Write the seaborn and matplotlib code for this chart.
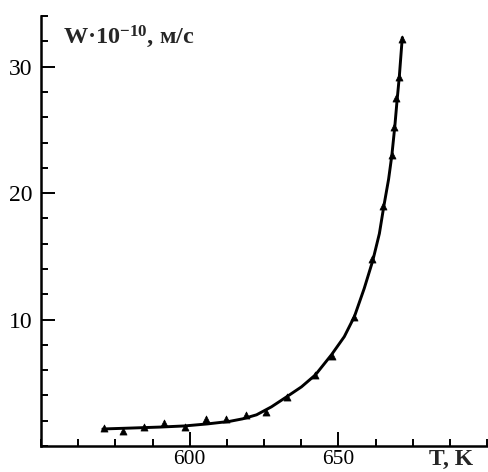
import numpy as np
import pandas as pd
import matplotlib
matplotlib.use("Agg")
import matplotlib.pyplot as plt
from matplotlib.ticker import MultipleLocator, FixedLocator
import seaborn as sns

# measured points (T, K / W*1e-10, m/s)
T_points = [571.1, 577.5, 584.5, 591.3, 598.3, 605.4, 612.1, 619.1, 625.8, 632.6,
            642.3, 647.7, 655.4, 661.4, 665.0, 667.9, 668.8, 669.4, 670.4, 671.5]
W_points = [1.43, 1.20, 1.51, 1.83, 1.51, 2.14, 2.14, 2.46, 2.70, 3.90,
            5.60, 7.10, 10.2, 14.8, 19.0, 23.0, 25.2, 27.5, 29.2, 32.2]

# fitted curve
T_curve = [570.8, 580.0, 590.0, 598.3, 606.0, 613.4, 617.8, 622.5, 627.5, 632.6,
           637.6, 642.3, 647.7, 652.0, 655.4, 658.7, 661.6, 663.8, 665.3, 666.9,
           668.0, 669.0, 669.7, 670.5, 671.5]
W_curve = [1.35, 1.42, 1.50, 1.59, 1.75, 1.95, 2.15, 2.47, 3.10, 3.89,
           4.68, 5.63, 7.22, 8.65, 10.24, 12.46, 14.68, 16.8, 18.97, 21.1,
           23.0, 25.3, 27.2, 29.2, 32.3]

df_pts = pd.DataFrame({"T": T_points, "W": W_points})
df_fit = pd.DataFrame({"T": T_curve, "W": W_curve})

sns.set_style("ticks")
plt.rcParams['font.family'] = ['Liberation Serif', 'DejaVu Serif']
plt.rcParams['mathtext.fontset'] = 'custom'
plt.rcParams['mathtext.rm'] = 'Liberation Serif:bold'
plt.rcParams['mathtext.bf'] = 'Liberation Serif:bold'
plt.rcParams['mathtext.default'] = 'bf'

fig = plt.figure(figsize=(4.88, 4.72), dpi=100)
ax = fig.add_axes([0.084, 0.055, 0.914, 0.911])

sns.lineplot(data=df_fit, x="T", y="W", color="black", linewidth=2.1, ax=ax, sort=False)
sns.scatterplot(data=df_pts, x="T", y="W", marker="^", color="black", s=26,
                edgecolor="black", linewidth=0.5, ax=ax, zorder=3)

ax.set_xlim(550, 700)
ax.set_ylim(0, 34)

ax.xaxis.set_major_locator(FixedLocator([600, 650]))
ax.xaxis.set_minor_locator(MultipleLocator(12.5))
ax.yaxis.set_major_locator(FixedLocator([10, 20, 30]))
ax.yaxis.set_minor_locator(MultipleLocator(2))

ax.tick_params(which='both', direction='in', width=1.4, colors='black')
ax.tick_params(which='major', length=10)
ax.tick_params(which='minor', length=5)
ax.tick_params(axis='x', which='major', labelsize=15.5, pad=3)
ax.tick_params(axis='y', which='major', labelsize=17, pad=6)

for side in ['top', 'right']:
    ax.spines[side].set_visible(False)
for side in ['left', 'bottom']:
    ax.spines[side].set_linewidth(1.8)
    ax.spines[side].set_color('black')

ax.set_xlabel('')
ax.set_ylabel('')

ax.text(0.049, 0.951, 'W·10$^{-10}$, м/с', transform=ax.transAxes,
        fontsize=17.5, fontweight='bold', ha='left', va='center')
fig.text(0.879, 0.027, 'T, K', fontsize=17, fontweight='bold', ha='left', va='center')

plt.savefig("out.png", dpi=100)
